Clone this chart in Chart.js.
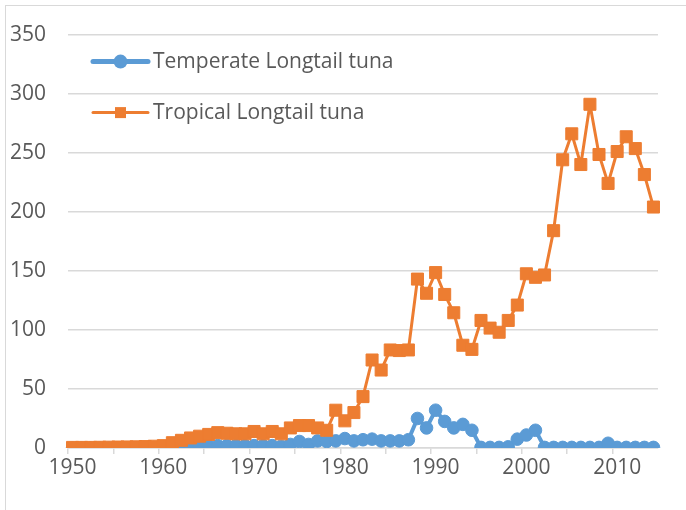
<!DOCTYPE html>
<html>
<head>
<meta charset="utf-8">
<script src="https://cdn.jsdelivr.net/npm/chart.js@4.4.1/dist/chart.umd.min.js"></script>
<style>
  body { margin: 0; background: #fff; }
  #wrap { position: relative; width: 686px; height: 510px; }
  #frame { position: absolute; left: 5px; top: 5px; right: -10px; bottom: -10px; border: 1.5px solid #d9d9d9; }
  canvas { position: absolute; left: 0; top: 0; }
</style>
</head>
<body>
<div id="wrap">
  <div id="frame"></div>
  <canvas id="tunaChart" width="686" height="510"></canvas>
</div>
<script>
// Years 1950 - 2014
const years = [];
for (let y = 1950; y <= 2014; y++) years.push(String(y));

const temperate = [
  0, 0, 0, 0, 0, 0, 0, 0, 0, 0.3,
  0.5, 0.5, 1, 1, 1.5, 1.5, 2, 2, 2, 2,
  2, 2, 2, 1.5, 3, 5.5, 3, 6, 5.5, 6,
  8, 6, 7, 7.5, 6, 6, 6, 7, 25, 17,
  32, 22.5, 17, 20, 15, 0.5, 0.5, 0.5, 1, 7.5,
  11, 15, 0.5, 0.5, 0.5, 0.5, 0.5, 0.5, 0.5, 4,
  0.5, 0.5, 0.5, 0.5, 0.5
];

const tropical = [
  0.5, 0.5, 0.5, 0.6, 0.7, 0.8, 0.9, 1, 1.2, 1.5,
  2, 4.5, 6.5, 8.5, 10, 11.5, 13, 12.5, 12, 12,
  14, 12, 14, 12, 17, 19, 19, 17, 15, 32,
  23, 30, 43.5, 74.5, 66, 83, 82.5, 83, 143, 131,
  148.5, 130, 114.5, 87, 83.5, 108, 101.5, 98, 108, 121,
  147.5, 144.5, 146.5, 184, 244, 266, 240, 291, 248.5, 224,
  251, 263.5, 253.5, 231.5, 204
];

const yTicks = [0, 50, 100, 150, 200, 250, 300, 350];

const blue = '#5B9BD5';
const orange = '#ED7D31';
const gridColor = '#d9d9d9';
const textColor = '#595959';
const fontFamily = '"Open Sans", sans-serif';

// Legend drawn inside the plot area, top left, two rows
const insideLegend = {
  id: 'insideLegend',
  afterDraw(chart) {
    const ctx = chart.ctx;
    const area = chart.chartArea;
    const rows = [27, 78];
    chart.data.datasets.forEach((ds, i) => {
      const y = area.top + rows[i];
      const x0 = area.left + 25, x1 = area.left + 80, xm = (x0 + x1) / 2;
      ctx.save();
      ctx.strokeStyle = ds.borderColor;
      ctx.lineWidth = ds.pointStyle === 'rect' ? 3 : 5;
      ctx.lineCap = 'round';
      ctx.beginPath();
      ctx.moveTo(x0, y);
      ctx.lineTo(x1, y);
      ctx.stroke();
      ctx.fillStyle = ds.pointBackgroundColor;
      if (ds.pointStyle === 'rect') {
        ctx.fillRect(xm - 5.5, y - 5.5, 11, 11);
      } else {
        ctx.beginPath();
        ctx.arc(xm, y, 7, 0, Math.PI * 2);
        ctx.fill();
      }
      ctx.fillStyle = textColor;
      ctx.font = '21px ' + fontFamily;
      ctx.textBaseline = 'middle';
      ctx.textAlign = 'left';
      ctx.fillText(ds.label, area.left + 85, y);
      ctx.restore();
    });
  }
};

new Chart(document.getElementById('tunaChart'), {
  type: 'line',
  data: {
    labels: years,
    datasets: [{
      label: 'Temperate Longtail tuna',
      data: temperate,
      borderColor: blue,
      backgroundColor: blue,
      pointBackgroundColor: blue,
      pointBorderColor: blue,
      borderWidth: 4,
      pointStyle: 'circle',
      pointRadius: 6.3,
      pointBorderWidth: 1,
      borderJoinStyle: 'round',
      tension: 0,
      order: 1
    },
    {
      label: 'Tropical Longtail tuna',
      data: tropical,
      borderColor: orange,
      backgroundColor: orange,
      pointBackgroundColor: orange,
      pointBorderColor: orange,
      borderWidth: 3,
      pointStyle: 'rect',
      pointRadius: 8.5,
      pointBorderWidth: 1,
      borderJoinStyle: 'round',
      tension: 0,
      order: 0
    }]
  },
  options: {
    responsive: false,
    animation: false,
    events: [],
    layout: { padding: { left: 0, right: 28, top: 30, bottom: 0 } },
    plugins: {
      legend: { display: false },
      tooltip: { enabled: false }
    },
    scales: {
      x: {
        type: 'category',
        offset: true,
        afterFit(scale) { scale.height = 62; },
        grid: {
          offset: true,
          drawOnChartArea: false,
          drawTicks: true,
          tickLength: 6,
          color: ctx => (ctx.index % 5 === 0 ? gridColor : 'rgba(0,0,0,0)'),
          lineWidth: 1.5
        },
        border: { display: true, color: gridColor, width: 1.5 },
        ticks: {
          autoSkip: false,
          maxRotation: 0,
          padding: 1,
          color: textColor,
          font: { family: fontFamily, size: 21 },
          callback(value, index) {
            const y = Number(years[index]);
            return y % 10 === 0 ? String(y) : '';
          }
        }
      },
      y: {
        min: 0,
        max: 350,
        afterFit(scale) { scale.width = 68; },
        afterBuildTicks(scale) { scale.ticks = yTicks.map(v => ({ value: v })); },
        grid: { color: gridColor, lineWidth: 1.5, drawTicks: false },
        border: { display: false },
        ticks: {
          padding: 22,
          color: textColor,
          font: { family: fontFamily, size: 21 }
        }
      }
    }
  },
  plugins: [insideLegend]
});
</script>
</body>
</html>
